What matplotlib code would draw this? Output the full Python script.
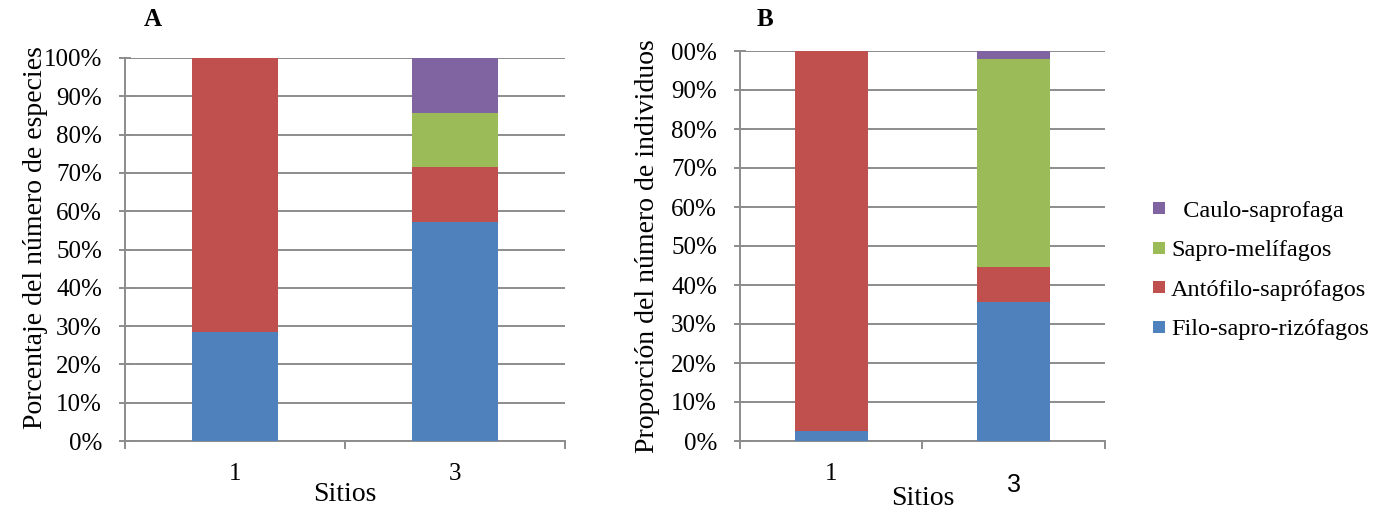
import matplotlib
matplotlib.use("Agg")
import matplotlib.pyplot as plt
from matplotlib.lines import Line2D
from matplotlib.transforms import ScaledTranslation

plt.rcParams["font.family"] = ["Liberation Serif", "DejaVu Serif"]

# ── Data (percent of total per site) ─────────────────────────────────────────
sites = ["1", "3"]
groups = ["Filo-sapro-rizófagos", "Antófilo-saprófagos", "Sapro-melífagos", "Caulo-saprofaga"]

# A: species richness share
species_filo = [28.57, 57.14]
species_anto = [71.43, 14.29]
species_mel = [0.0, 14.29]
species_caulo = [0.0, 14.28]

# B: abundance share
indiv_filo = [2.5, 35.6]
indiv_anto = [97.5, 8.9]
indiv_mel = [0.0, 53.4]
indiv_caulo = [0.0, 2.1]

COLORS = ["#4F81BD", "#C0504D", "#9BBB59", "#8064A2"]
GRID = "#8c8c8c"
FS_TICK = 18
FS_LABEL = 20

fig = plt.figure(figsize=(13.76, 5.12), dpi=100)
axA = fig.add_axes([125 / 1376, 1 - 441 / 512, 440 / 1376, 383 / 512])
axB = fig.add_axes([740 / 1376, 1 - 441 / 512, 365 / 1376, 390 / 512])


def stacked(ax, series, width):
    x = list(range(len(sites)))
    bottom = [0.0] * len(sites)
    for vals, col in zip(series, COLORS):
        ax.bar(x, vals, width=width, bottom=bottom, color=col, zorder=3, linewidth=0)
        bottom = [b + v for b, v in zip(bottom, vals)]


def style(ax, ylabels):
    ax.set_xlim(-0.5, 1.5)
    ax.set_ylim(0, 100)
    ax.set_yticks(range(0, 101, 10))
    ax.set_yticklabels(ylabels, fontsize=FS_TICK)
    ax.yaxis.grid(True, color=GRID, linewidth=1.4, zorder=0)
    ax.set_axisbelow(True)
    for s in ["top", "right"]:
        ax.spines[s].set_visible(False)
    for s in ["left", "bottom"]:
        ax.spines[s].set_color(GRID)
        ax.spines[s].set_linewidth(1.4)
    ax.tick_params(axis="y", direction="inout", length=9, width=1.4, color=GRID, pad=12)
    ax.set_xticks([0, 1])
    ax.set_xticks([-0.5, 0.5, 1.5], minor=True)
    ax.tick_params(axis="x", which="major", length=0, pad=16)
    ax.tick_params(axis="x", which="minor", direction="out", length=6, width=1.4, color=GRID)


stacked(axA, [species_filo, species_anto, species_mel, species_caulo], 0.39)
style(axA, [f"{v}%" for v in range(0, 101, 10)])
axA.set_xticklabels(sites, fontsize=FS_TICK)
axA.set_ylabel("Porcentaje del número de especies", fontsize=FS_LABEL, labelpad=3)
axA.yaxis.set_label_coords(-0.175, 0.53)
axA.set_xlabel("Sitios", fontsize=FS_LABEL, labelpad=-2)

stacked(axB, [indiv_filo, indiv_anto, indiv_mel, indiv_caulo], 0.40)
style(axB, [f"{v}%" for v in range(0, 91, 10)] + ["00%"])
axB.set_xticklabels(sites, fontsize=FS_TICK)
# second site label in B is set in a sans face and sits a little lower
lbl3 = axB.get_xticklabels()[1]
lbl3.set_fontfamily("Liberation Sans")
lbl3.set_transform(lbl3.get_transform() + ScaledTranslation(0, -7 / 72, fig.dpi_scale_trans))
axB.set_ylabel("Proporción del número de individuos", fontsize=FS_LABEL, labelpad=8)
axB.set_xlabel("Sitios", fontsize=FS_LABEL, labelpad=-8)

fig.text(153 / 1376, 1 - 20 / 512, "A", fontsize=FS_TICK, fontweight="bold", ha="center", va="center")
fig.text(765 / 1376, 1 - 20 / 512, "B", fontsize=FS_TICK, fontweight="bold", ha="center", va="center")

# legend, top entry first
labels = ["  Caulo-saprofaga", "Sapro-melífagos", "Antófilo-saprófagos", "Filo-sapro-rizófagos"]
handles = [Line2D([], [], marker="s", linestyle="none", markersize=9, color=c, markeredgewidth=0)
           for c in COLORS[::-1]]
fig.legend(handles, labels, loc="upper left", bbox_to_anchor=(1142 / 1376, 1 - 190 / 512),
           frameon=False, fontsize=17.5, handlelength=0.6, handletextpad=0.2,
           labelspacing=0.72, borderaxespad=0)

fig.savefig("out.png", dpi=100)
